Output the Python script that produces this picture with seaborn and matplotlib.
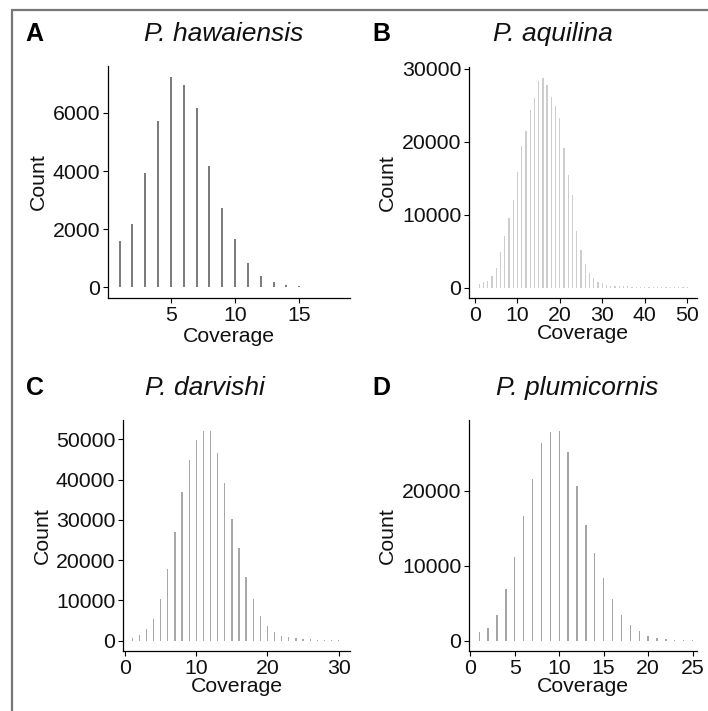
import matplotlib
matplotlib.use("Agg")
import matplotlib.pyplot as plt
from matplotlib.lines import Line2D
import seaborn as sns
import pandas as pd

sns.set_style("ticks")
plt.rcParams['font.family'] = ['Liberation Sans', 'DejaVu Sans']

# ---- data ----
hawaiensis_cov = list(range(1, 19))
hawaiensis_count = [1580, 2190, 3950, 5720, 7250, 6950, 6170, 4170, 2730,
                    1650, 830, 390, 200, 80, 50, 30, 20, 15]

aquilina_cov = list(range(1, 51))
aquilina_count = [460, 700, 900, 1550, 2700, 4900, 7000, 9600, 12000, 15900,
                  19400, 21500, 24300, 26000, 28300, 28800, 27800, 26100, 24900, 23200,
                  19100, 15400, 12700, 7700, 5200, 3200, 2050, 1300, 780, 550,
                  370, 270, 220, 190, 170, 150, 130, 115, 100, 90,
                  80, 70, 60, 55, 50, 45, 40, 35, 30, 25]

darvishi_cov = list(range(1, 31))
darvishi_count = [660, 1400, 2900, 5400, 10200, 17700, 26900, 36900, 44800, 49900,
                  52200, 52000, 46600, 39100, 30300, 23000, 15700, 10200, 6050, 3500,
                  2000, 1100, 750, 500, 350, 250, 200, 150, 100, 60]

plumicornis_cov = list(range(1, 26))
plumicornis_count = [1150, 1700, 3450, 6900, 11200, 16600, 21500, 26300, 27800, 28000,
                     25200, 20600, 15400, 11700, 8300, 5600, 3450, 2100, 1250, 600,
                     350, 200, 130, 90, 60]

titles = ["P. hawaiensis", "P. aquilina", "P. darvishi", "P. plumicornis"]
letters = ["A", "B", "C", "D"]

W, H = 708, 711
fig = plt.figure(figsize=(W / 100, H / 100), dpi=100)
TXT = "#111111"

def px_rect(x0, y0, x1, y1):
    return [x0 / W, 1 - y1 / H, (x1 - x0) / W, (y1 - y0) / H]

panels = [
    dict(cov=hawaiensis_cov, cnt=hawaiensis_count, rect=(108, 66, 350, 298),
         color="#7c7c7c", width=0.16, xlim=(0.1, 18.95), xticks=[5, 10, 15],
         yticks=[0, 2000, 4000, 6000], title_xy=(224, 34), letter_xy=(25, 34),
         ylab_x=38, xlab_y=336),
    dict(cov=aquilina_cov, cnt=aquilina_count, rect=(469, 67, 697, 298),
         color="#cdcdcd", width=0.3, xlim=(-1.4, 52.3), xticks=[0, 10, 20, 30, 40, 50],
         yticks=[0, 10000, 20000, 30000], title_xy=(553, 34), letter_xy=(372, 34),
         ylab_x=387, xlab_y=333),
    dict(cov=darvishi_cov, cnt=darvishi_count, rect=(123, 420, 350, 651),
         color="#a8a8a8", width=0.18, xlim=(-0.3, 31.6), xticks=[0, 10, 20, 30],
         yticks=[0, 10000, 20000, 30000, 40000, 50000], title_xy=(205, 388),
         letter_xy=(26, 388), ylab_x=42, xlab_y=686),
    dict(cov=plumicornis_cov, cnt=plumicornis_count, rect=(469, 420, 697, 651),
         color="#a4a4a4", width=0.16, xlim=(-0.15, 25.5), xticks=[0, 5, 10, 15, 20, 25],
         yticks=[0, 10000, 20000], title_xy=(577, 388), letter_xy=(372, 388),
         ylab_x=387, xlab_y=687),
]

for p, title, letter in zip(panels, titles, letters):
    ax = fig.add_axes(px_rect(*p["rect"]))
    df = pd.DataFrame({"Coverage": p["cov"], "Count": p["cnt"]})
    sns.barplot(data=df, x="Coverage", y="Count", native_scale=True,
                width=p["width"], color=p["color"], saturation=1,
                linewidth=0, ax=ax)
    ymax = max(p["cnt"])
    ax.set_ylim(-0.05 * ymax, 1.05 * ymax)
    ax.set_xlim(*p["xlim"])
    ax.set_xticks(p["xticks"])
    ax.set_xticklabels([str(t) for t in p["xticks"]])
    ax.set_yticks(p["yticks"])
    ax.set_yticklabels([str(t) for t in p["yticks"]])
    ax.tick_params(axis="both", labelsize=15.3, length=3.5, width=0.8,
                   pad=2, colors="black", labelcolor=TXT)
    for s in ["left", "bottom"]:
        ax.spines[s].set_linewidth(0.9)
        ax.spines[s].set_color("black")
    sns.despine(ax=ax)
    ax.set_xlabel("Coverage", fontsize=15.3, color=TXT)
    ax.set_ylabel("Count", fontsize=15.3, color=TXT)
    ax.yaxis.set_label_coords(p["ylab_x"] / W, 1 - ((p["rect"][1] + p["rect"][3]) / 2) / H,
                              transform=fig.transFigure)
    ax.xaxis.set_label_coords(((p["rect"][0] + p["rect"][2]) / 2) / W, 1 - p["xlab_y"] / H,
                              transform=fig.transFigure)
    ax.xaxis.label.set_va("center")
    ax.yaxis.label.set_va("center")
    ax.set_facecolor("white")
    fig.text(p["title_xy"][0] / W, 1 - p["title_xy"][1] / H, title,
             fontsize=19, style="italic", ha="center", va="center", color=TXT)
    fig.text(p["letter_xy"][0] / W, 1 - p["letter_xy"][1] / H, letter,
             fontsize=18, weight="bold", ha="left", va="center", color="black")

# border lines (top and left)
fig.add_artist(Line2D([12 / W, 12 / W], [0, 1 - 10 / H], color="#777777", lw=1.6,
                      transform=fig.transFigure))
fig.add_artist(Line2D([12 / W, 1], [1 - 10 / H, 1 - 10 / H], color="#777777", lw=1.6,
                      transform=fig.transFigure))

fig.savefig("out.png", dpi=100, facecolor="white")
